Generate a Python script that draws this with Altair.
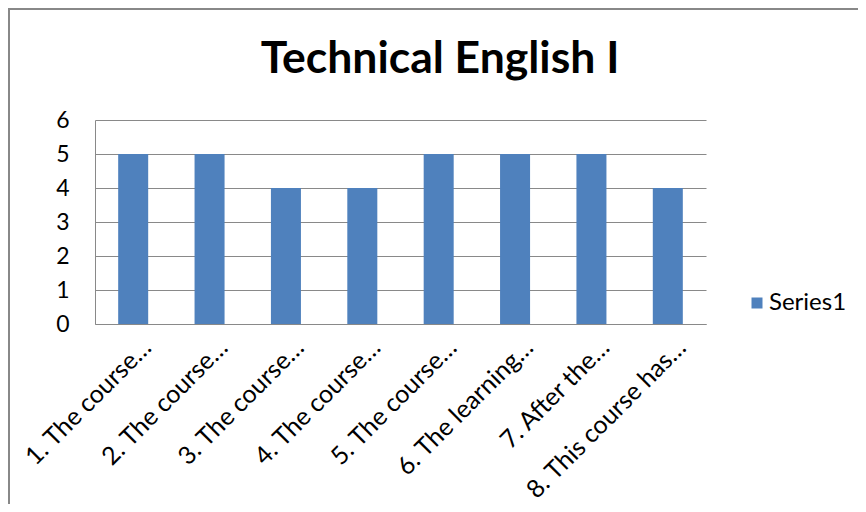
import altair as alt
import pandas as pd

categories = [
    "1. The course…",
    "2. The course…",
    "3. The course…",
    "4. The course…",
    "5. The course…",
    "6. The learning…",
    "7. After the…",
    "8. This course has…",
]
values = [5, 5, 4, 4, 5, 5, 5, 4]
series = ["Series1"] * len(categories)
y_ticks = [0, 1, 2, 3, 4, 5, 6]
title_text = ["Technical English I"]

df = pd.DataFrame({"cat": categories, "val": values, "series": series})

FONT = "Lato"
GRID = "#898989"

bars = alt.Chart(df).mark_bar(color="#4F81BD").encode(
    x=alt.X(
        "cat:N",
        sort=categories,
        title=None,
        scale=alt.Scale(paddingInner=0.607, paddingOuter=0.3035),
        axis=alt.Axis(
            labelAngle=315,
            labelAlign="right",
            labelBaseline="middle",
            labelOffset=14,
            labelPadding=19,
            labelFontSize=25,
            labelFont=FONT,
            labelColor="black",
            ticks=False,
            domainColor=GRID,
            grid=False,
            labelLimit=0,
        ),
    ),
    y=alt.Y(
        "val:Q",
        title=None,
        scale=alt.Scale(domain=[0, 6], nice=False),
        axis=alt.Axis(
            values=y_ticks,
            labelFontSize=23,
            labelFont=FONT,
            labelColor="black",
            labelPadding=26,
            ticks=False,
            domainColor=GRID,
            gridColor=GRID,
            gridOpacity=1,
        ),
    ),
    fill=alt.Fill(
        "series:N",
        scale=alt.Scale(range=["#4F81BD"]),
        legend=alt.Legend(
            title=None,
            orient="none",
            legendX=650,
            legendY=171,
            symbolType="square",
            symbolSize=121,
            symbolStrokeWidth=0,
            labelFontSize=24,
            labelFont=FONT,
            labelColor="black",
            padding=0,
            labelOffset=0,
        ),
    ),
)

frame_data = alt.Data(values=[{}])
frame_left = alt.Chart(frame_data).mark_rule(color="#888888", strokeWidth=2).encode(
    x=alt.value(-86),
    y=alt.value(-111),
    y2=alt.value(600),
)
frame_top = alt.Chart(frame_data).mark_rule(color="#888888", strokeWidth=2).encode(
    x=alt.value(-87),
    x2=alt.value(900),
    y=alt.value(-111),
)

title = alt.Chart(pd.DataFrame({"t": title_text})).mark_text(
    font=FONT,
    fontSize=44.5,
    fontWeight="bold",
    color="black",
    align="center",
    baseline="alphabetic",
).encode(
    text="t:N",
    x=alt.value(345),
    y=alt.value(-47),
)

chart = alt.layer(frame_left, frame_top, bars, title).properties(
    width=611,
    height=204,
    autosize=alt.AutoSizeParams(type="none"),
    padding={"left": 87, "top": 112, "right": 152, "bottom": 180},
).configure_view(stroke=None)

chart.save("out.html", embed_options={"renderer": "svg", "actions": False})
